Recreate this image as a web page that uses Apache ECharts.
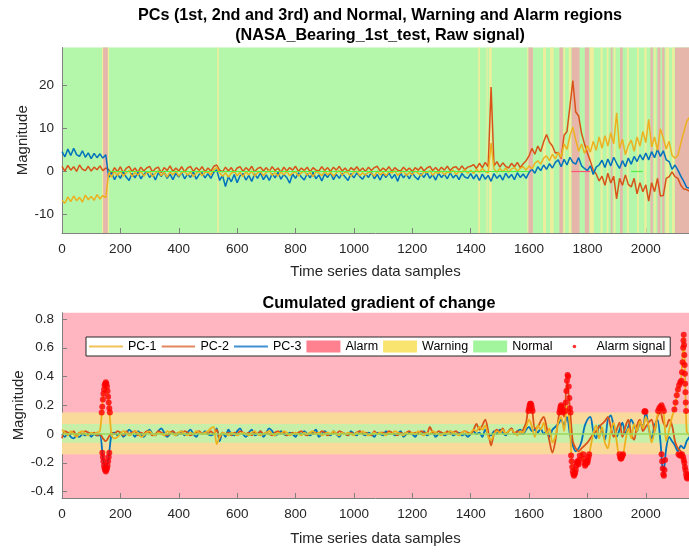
<!DOCTYPE html>
<html>
<head>
<meta charset="utf-8">
<script src="https://cdn.jsdelivr.net/npm/echarts@6/dist/echarts.min.js"></script>
<style>html,body{margin:0;padding:0;background:#fff}#c{width:689px;height:552px}</style>
</head>
<body>
<div id="c"></div>
<script>
// ---- data (sample step 10) ----
var STEP = 10;
var xTicks = [0,200,400,600,800,1000,1200,1400,1600,1800,2000];
var yTopTicks = [-10,0,10,20];
var yBotTicks = [-0.4,-0.2,0,0.2,0.4,0.6,0.8];

var topPC1 = [-6.8,-7.5,-6.0,-7.1,-5.8,-6.9,-6.1,-7.2,-5.6,-6.7,-5.9,-6.8,-5.5,-6.5,-5.7,-6.2,
-0.4,-1.4,-0.1,-1.1,0.0,-1.2,-0.4,0.1,-1.3,-0.3,-1.0,0.0,-1.2,-0.4,
-0.1,-1.3,-0.5,0.1,-1.1,-0.3,-1.4,-0.2,-0.9,0.0,
-1.2,-0.4,0.0,-1.0,-0.2,-1.3,-0.5,0.0,-1.1,-0.3,
-0.2,-0.9,0.4,0.8,-0.4,-1.2,-0.4,-1.4,-0.5,0.0,
-1.1,-0.3,-1.3,-0.2,-0.9,0.0,-1.2,-0.4,-0.1,-1.1,
-0.3,0.1,-1.0,-0.4,-1.2,-0.2,-0.9,0.0,-1.1,-0.5,
-0.2,-1.2,-0.4,0.0,-1.0,-0.3,-1.3,-0.2,-0.5,-1.1,
0.0,-0.9,-0.3,-1.2,-0.4,0.1,-1.0,-0.2,-0.5,-1.2,
-0.3,0.0,-1.1,-0.4,-1.0,-0.2,-0.5,-1.2,0.0,-0.9,
-0.3,-1.1,-0.2,-0.5,0.1,-1.0,-0.4,0.0,-1.1,-0.3,
-0.9,0.0,-0.5,-1.1,-0.2,-0.4,0.1,-1.0,-0.3,-0.5,
0.0,-0.9,-0.2,-0.4,0.2,-0.8,-0.1,-0.3,0.3,-0.5,
0.2,-0.6,0.4,-0.3,0.6,-0.1,-0.4,6.5,0.5,-0.3,
0.6,-0.2,0.7,-0.3,0.5,0.8,0.0,0.6,1.0,0.2,
1.2,0.5,1.8,2.4,1.6,3.0,3.5,2.4,3.9,2.8,
4.3,3.2,6.3,5.0,8.2,10.2,7.2,4.6,6.3,4.1,
5.9,4.4,6.9,4.8,7.9,5.3,8.2,5.8,8.9,6.3,
13.5,5.2,7.4,3.8,5.9,7.2,4.6,7.9,5.8,9.2,
6.6,12.0,5.6,7.9,4.8,9.8,7.6,5.1,6.9,3.6,
3.0,3.6,6.5,9.0,11.5,12.5];

var topPC2 = [1.1,0.0,1.3,0.2,1.0,-0.1,1.4,0.4,0.1,1.1,0.0,0.9,0.3,1.2,0.1,0.7,
0.3,-0.5,0.8,-0.2,1.0,-0.4,0.6,1.1,-0.1,0.7,-0.3,0.9,0.0,0.7,
1.1,-0.2,0.6,0.9,-0.4,0.8,0.1,1.2,-0.1,0.7,
0.0,1.0,-0.2,0.7,1.1,-0.1,0.8,0.1,1.0,-0.2,
0.7,0.0,1.1,1.4,0.2,-0.2,0.9,0.0,0.8,-0.3,
0.7,1.0,-0.1,0.8,0.1,1.1,-0.2,0.6,0.9,0.0,
0.8,-0.1,1.0,0.1,0.7,-0.3,0.9,0.0,0.8,0.2,
1.1,-0.1,0.7,0.1,0.9,-0.2,0.8,0.2,0.0,1.0,
0.1,0.8,-0.1,0.9,0.2,1.1,0.0,0.7,-0.2,0.8,
0.2,1.0,0.0,0.7,-0.1,0.9,0.1,0.8,1.1,0.0,
0.7,0.1,1.0,-0.1,0.8,0.2,0.0,0.9,0.1,0.7,
-0.1,0.8,0.2,1.0,0.0,0.7,1.1,0.1,0.8,0.0,
0.9,0.2,1.1,0.1,0.8,1.0,0.2,1.2,0.3,0.9,
1.1,1.5,0.6,1.8,0.8,2.0,1.0,19.5,1.2,2.2,
0.9,1.9,1.1,0.7,1.8,1.0,2.0,0.8,1.7,2.4,
3.5,5.3,3.9,5.8,4.5,6.8,8.5,6.7,5.8,4.2,
4.3,2.9,8.3,9.2,15.0,21.0,13.7,12.8,8.7,6.3,
4.2,2.3,0.2,-0.7,-2.3,-1.2,-3.3,-0.5,-2.8,-1.2,
-6.5,-1.7,-3.3,-0.9,-3.1,-3.7,-1.7,-5.3,-2.7,-4.8,
-3.2,-7.0,-2.7,-4.8,-1.7,-5.8,-5.7,-1.7,-1.3,-0.2,
-1.3,-1.7,-3.3,-4.2,-4.3,-4.7];

var topPC3 = [4.5,3.3,5.1,3.6,5.3,3.8,3.4,4.7,3.2,4.2,2.9,4.1,3.1,4.0,3.0,3.8,
-1.5,-0.4,-2.0,-0.7,-1.7,-0.2,-1.4,-2.2,-0.5,-1.6,-0.3,-1.8,-0.8,-0.1,
-1.5,-0.6,-2.1,-0.4,-1.3,-0.2,-1.7,-0.7,-2.0,-0.5,
-1.4,-0.3,-1.8,-0.7,-1.5,-0.2,-1.9,-0.8,-0.4,-1.6,
-0.6,-1.7,-0.3,0.3,-2.2,-1.0,-3.6,-1.3,-2.5,-0.8,
-2.7,-1.1,-0.6,-2.1,-1.0,-2.4,-0.7,-1.7,-0.4,-2.0,
-0.9,-2.2,-0.6,-1.6,-0.3,-1.9,-0.8,-1.5,-2.8,-0.7,
-1.7,-0.4,-1.4,-2.1,-0.6,-1.6,-0.3,-1.8,-0.9,-2.3,
-0.7,-1.5,-0.4,-2.0,-0.8,-1.7,-0.5,-1.4,-2.2,-0.6,
-1.6,-0.4,-1.3,-1.9,-0.7,-1.5,-0.3,-1.8,-0.8,-2.1,
-0.6,-1.5,-0.4,-1.7,-0.8,-2.4,-0.5,-1.6,-0.7,-1.8,
-0.4,-1.4,-2.0,-0.6,-1.5,-0.3,-1.7,-0.8,-2.1,-0.5,
-1.5,-0.7,-1.8,-0.4,-1.6,-0.8,-2.0,-0.6,-1.4,-1.7,
-0.6,-1.8,-0.8,-2.2,-0.7,-1.9,-1.0,-2.4,-0.6,-1.7,
-0.9,-2.1,-0.5,-1.6,-0.8,-2.0,-0.4,-1.5,-0.7,-1.7,
-0.3,0.4,-0.5,1.0,0.1,1.4,0.4,1.7,0.7,2.0,
2.6,1.0,2.7,1.4,3.2,2.0,1.6,3.1,1.2,0.6,
0.1,1.2,-0.8,0.9,1.4,2.5,0.8,2.8,1.2,3.2,
1.8,0.6,2.4,1.0,3.0,1.6,3.4,2.2,3.8,2.6,
4.2,2.6,4.5,3.1,5.0,3.4,4.7,2.6,2.2,0.4,
1.4,0.2,-1.2,-2.4,-3.8,-4.0];

var botPC1 = [0.03,0.01,-0.01,0.02,0.0,-0.02,0.01,0.02,0.0,-0.01,
0.01,0.0,0.01,0.02,0.24,0.36,0.22,-0.01,-0.03,-0.02,
0.0,0.02,0.01,-0.01,0.0,0.02,0.01,-0.02,-0.01,0.01,
0.02,0.0,-0.01,0.01,0.0,-0.01,0.02,0.01,0.0,-0.01,
0.01,0.02,0.0,-0.01,0.01,0.0,0.02,0.01,0.0,0.01,
0.02,0.04,0.05,-0.07,-0.02,0.01,0.0,-0.01,0.01,0.0,
-0.01,0.0,0.01,0.0,-0.01,0.01,0.02,0.0,-0.01,0.0,
0.01,0.02,0.0,-0.01,0.01,0.0,0.02,0.01,-0.01,0.0,
0.01,0.0,-0.01,0.01,0.0,0.01,0.02,0.0,0.01,-0.01,
0.0,0.01,0.0,0.02,0.0,-0.01,0.01,0.0,0.01,0.0,
-0.01,0.01,0.0,0.02,0.0,-0.01,0.0,0.01,0.0,0.01,
0.0,-0.01,0.01,0.0,0.02,0.01,0.0,-0.01,0.01,0.0,
0.01,0.0,0.02,0.0,-0.01,0.01,0.0,0.02,0.01,0.0,
-0.01,0.01,0.0,0.02,0.01,0.0,-0.01,0.01,0.02,0.0,
0.01,0.03,0.02,0.05,0.03,0.06,-0.02,-0.04,0.0,0.02,
0.01,0.03,0.0,0.02,0.03,0.01,-0.01,0.02,0.01,0.05,
0.1,0.05,-0.02,0.06,0.03,0.08,0.0,0.04,-0.06,-0.02,
0.08,0.12,0.02,0.2,0.05,-0.26,-0.25,-0.21,-0.12,-0.2,
-0.2,-0.1,0.0,0.06,-0.03,0.05,-0.06,-0.1,0.02,0.08,
-0.05,-0.15,-0.15,-0.05,0.04,-0.03,0.07,0.02,0.09,0.04,
0.12,0.05,-0.06,0.02,0.13,0.19,0.17,-0.05,0.03,0.12,
0.19,0.31,0.36,0.69,0.02,-0.01];

var botPC2 = [-0.03,0.02,0.01,0.0,0.02,-0.01,0.01,0.0,0.02,0.01,
0.0,0.01,-0.01,0.0,-0.03,-0.05,-0.02,0.01,0.0,0.02,
0.01,-0.01,0.02,0.0,0.01,0.02,-0.01,0.01,0.0,0.02,
0.01,-0.01,0.0,0.02,0.01,0.0,-0.01,0.01,0.02,0.0,
0.01,0.0,0.02,0.01,-0.01,0.0,0.01,0.02,0.0,0.01,
0.0,0.02,0.0,0.03,-0.03,0.01,0.0,0.01,-0.01,0.01,
0.0,0.02,0.01,0.0,0.01,-0.01,0.01,0.0,0.02,0.0,
0.01,0.0,-0.01,0.01,0.02,0.0,0.01,-0.01,0.0,0.01,
0.0,0.01,0.02,0.0,-0.01,0.01,0.0,0.01,0.0,0.02,
0.01,-0.01,0.0,0.01,0.0,0.02,0.01,0.0,-0.01,0.01,
0.0,0.01,0.02,0.0,0.01,0.0,-0.01,0.02,0.0,0.01,
0.01,0.0,0.02,0.01,0.0,-0.01,0.01,0.0,0.01,0.02,
0.0,0.01,0.0,0.02,0.01,0.0,0.05,0.01,0.0,0.02,
0.01,0.0,0.02,0.0,0.01,0.02,0.0,0.01,0.02,0.01,
0.0,0.03,0.07,0.03,0.06,0.1,0.02,-0.08,0.0,0.03,
0.01,0.04,0.0,0.02,0.04,0.0,0.02,0.0,0.03,0.08,
0.19,0.17,0.04,0.05,0.09,0.12,0.05,-0.05,-0.13,-0.05,
0.1,0.2,0.12,0.37,0.18,-0.05,-0.1,-0.12,-0.1,-0.08,
-0.06,-0.03,0.0,0.02,0.05,0.07,0.09,0.12,0.05,-0.02,
0.03,0.08,-0.02,0.05,0.1,0.0,-0.04,0.06,0.1,0.02,
0.05,0.08,0.1,0.02,0.12,0.15,0.08,0.05,0.1,0.06,
-0.05,-0.1,-0.12,-0.16,-0.3,-0.28];

var botPC3 = [0.0,-0.02,0.01,-0.02,-0.03,-0.01,-0.02,0.0,-0.01,0.01,
-0.02,0.0,-0.01,-0.01,-0.16,-0.26,-0.16,0.0,0.01,-0.01,
0.01,-0.02,0.0,0.03,0.01,-0.02,0.02,0.0,-0.02,0.01,
0.03,0.0,-0.01,0.02,0.04,0.01,-0.02,0.0,0.02,-0.01,
0.0,0.02,-0.01,0.01,0.03,0.0,-0.02,0.01,0.0,0.02,
0.0,-0.01,0.0,0.04,-0.05,0.01,-0.02,0.03,0.0,-0.01,
0.02,0.04,0.0,-0.02,0.01,0.03,-0.01,0.0,0.02,-0.02,
0.01,0.04,0.02,-0.01,0.0,0.02,0.0,-0.01,0.01,0.0,
-0.02,0.01,0.0,0.02,0.0,-0.01,0.01,0.03,-0.02,0.0,
0.02,0.0,-0.01,0.02,0.0,-0.02,0.01,0.0,-0.01,0.02,
0.0,-0.01,0.02,0.0,-0.01,0.01,0.0,-0.02,0.01,0.0,
-0.01,0.02,0.0,0.01,-0.01,0.0,0.02,-0.02,0.0,0.01,
0.0,-0.02,0.01,0.0,0.02,-0.01,0.0,0.01,-0.02,0.0,
0.01,-0.01,0.0,0.02,-0.01,0.0,0.01,-0.01,0.0,-0.02,
0.0,0.02,0.0,0.01,-0.02,0.03,0.0,-0.01,0.02,0.0,
0.03,0.01,-0.01,0.02,0.04,0.0,0.02,0.03,0.0,0.03,
0.05,0.02,0.03,0.01,0.04,0.0,0.02,-0.02,0.03,0.05,
0.07,0.1,0.06,0.12,0.0,-0.08,-0.12,-0.1,-0.05,0.05,
0.1,0.12,0.02,-0.03,0.06,0.02,-0.04,0.1,0.13,0.05,
-0.02,0.03,0.08,0.0,0.05,0.1,0.06,0.02,0.08,0.05,
0.16,0.04,-0.03,0.06,0.1,-0.05,-0.28,-0.1,-0.02,-0.05,
-0.08,-0.12,-0.08,-0.1,-0.05,-0.02];

// alarm signal points (sample, value)
var alarmX = [136,138,140,142,144,146,148,150,152,154,156,158,160,162,164,
138,140,142,144,146,148,150,152,154,156,158,160,162,
1598,1600,1602,1604,1606,1608,1610,1612,
1704,1706,1708,1710,1712,1714,1716,
1724,1726,1728,1730,1732,1734,1736,1738,1740,1742,
1744,1746,1748,1750,1752,1754,1756,1758,1760,1762,1764,1766,1768,1770,1772,1774,
1786,1788,1790,1792,1794,1796,1798,1800,1802,1804,1806,
1910,1912,1914,1916,1918,1920,1922,
1995,1997,1999,
2042,2046,2050,2054,2058,2062,
2054,2056,2058,2060,2062,2064,2066,
2098,2102,2106,2110,2114,2118,2122,
2124,2126,2128,2129,2130,2131,2132,2133,2134,2135,2136,2137,2138,
2112,2116,2120,2124,2128,2130,2132,2134,2136,2138,2140,2142,2144,2146,2148];
var alarmY = [0.15,0.19,0.24,0.28,0.31,0.34,0.35,0.36,0.35,0.33,0.3,0.26,0.22,0.18,0.15,
-0.13,-0.16,-0.19,-0.22,-0.24,-0.25,-0.26,-0.25,-0.24,-0.22,-0.19,-0.16,-0.13,
0.16,0.18,0.2,0.21,0.21,0.2,0.18,0.16,
0.15,0.17,0.19,0.2,0.19,0.17,0.15,
0.16,0.22,0.3,0.37,0.41,0.4,0.33,0.25,0.18,0.15,
-0.15,-0.19,-0.23,-0.26,-0.28,-0.29,-0.28,-0.27,-0.25,-0.22,-0.2,-0.19,-0.2,-0.21,-0.18,-0.15,
-0.14,-0.17,-0.2,-0.22,-0.21,-0.2,-0.19,-0.2,-0.18,-0.16,-0.14,
-0.14,-0.16,-0.17,-0.17,-0.16,-0.15,-0.14,
0.155,0.16,0.155,
0.16,0.18,0.19,0.2,0.18,0.16,
-0.14,-0.19,-0.24,-0.28,-0.29,-0.25,-0.18,
0.17,0.22,0.27,0.31,0.34,0.36,0.37,
0.43,0.5,0.6,0.65,0.69,0.62,0.55,0.48,0.42,0.35,0.29,0.22,0.16,
-0.14,-0.15,-0.15,-0.14,-0.16,-0.18,-0.2,-0.23,-0.25,-0.28,-0.3,-0.31,-0.3,-0.29,-0.28];

// region intervals (samples) of the top panel
var alarmBands = [[141,157],[1598,1613],[1704,1716],[1746,1773],[1791,1806],[1880,1886],[1912,1921],[2016,2024],[2040,2050],[2056,2064],[2100,2150]];
var warningBands = [[137,141],[157,161],[532,537],[1426,1432],[1454,1458],[1463,1472],[1594,1598],[1648,1658],[1672,1684],[1718,1724],[1736,1745],[1808,1822],[1845,1852],[1866,1872],[1890,1896],[1935,1942],[1970,1976],[1995,2003],[2028,2034],[2068,2080],[2090,2098]];
var zeroNormalSegs = [[160,1600],[1950,1990]];
var zeroAlarmSegs = [[1745,1810],[2100,2150]];
// thresholds of the bottom panel
var warningLimits = [-0.14, 0.15];
var normalLimits = [-0.06, 0.07];

// ---- chart ----
var XMAX = 2148;
var C1 = '#EDB120', C2 = '#D95319', C3 = '#0072BD';
function xy(arr){ return arr.map(function(v,i){ return [i*STEP, v]; }); }
function bandsX(list){ return list.map(function(b){ return [{xAxis:b[0]},{xAxis:b[1]}]; }); }
function segs(list){ return list.map(function(s){ return [{coord:[s[0],0]},{coord:[s[1],0]}]; }); }
var FONT = 'Liberation Sans, Arial, Helvetica, sans-serif';
var TXT = '#262626';
function fmt(v){ return String(v); }

function xAxisCfg(gi, gap){
  return {type:'value', gridIndex:gi, min:0, max:XMAX,
    name:'Time series data samples', nameLocation:'middle', nameGap:gap, nameMoveOverlap:false,
    nameTextStyle:{fontSize:15, color:TXT, fontFamily:FONT},
    axisLine:{show:true, onZero:false, lineStyle:{color:'#808080', width:1}},
    axisTick:{show:true, inside:true, length:5, customValues:xTicks, lineStyle:{color:'#808080'}},
    axisLabel:{customValues:xTicks, formatter:fmt, fontSize:13.5, color:TXT, fontFamily:FONT, margin:9},
    splitLine:{show:false}};
}
function yAxisCfg(gi, mn, mx, ticks, gap){
  return {type:'value', gridIndex:gi, min:mn, max:mx,
    name:'Magnitude', nameLocation:'middle', nameGap:gap, nameMoveOverlap:false,
    nameTextStyle:{fontSize:15, color:TXT, fontFamily:FONT},
    axisLine:{show:true, onZero:false, lineStyle:{color:'#808080', width:1}},
    axisTick:{show:true, inside:true, length:5, customValues:ticks, lineStyle:{color:'#808080'}},
    axisLabel:{customValues:ticks, formatter:fmt, fontSize:13.5, color:TXT, fontFamily:FONT, margin:8},
    splitLine:{show:false}};
}
function pcLine(name, data, color, xi, w, z, smooth){
  return {name:name, type:'line', xAxisIndex:xi, yAxisIndex:xi, data:data, showSymbol:false, symbol:'none',
    smooth:smooth || false,
    lineStyle:{color:color, width:w}, itemStyle:{color:color}, z:z, silent:true, animation:false};
}
function svgIcon(inner){
  return 'image://data:image/svg+xml;utf8,' + encodeURIComponent('<svg xmlns="http://www.w3.org/2000/svg" width="34" height="12">' + inner + '</svg>');
}
function lineIcon(col){ return svgIcon('<line x1="0" y1="6" x2="34" y2="6" stroke="' + col + '" stroke-width="2"/>'); }

var option = {
  animation:false,
  backgroundColor:'#ffffff',
  title:[
    {text:'PCs (1st, 2nd and 3rd) and Normal, Warning and Alarm regions', left:375, top:3, textAlign:'center',
     textStyle:{fontSize:16.2, fontWeight:'bold', color:'#000', fontFamily:FONT}},
    {text:'(NASA_Bearing_1st_test, Raw signal)', left:375, top:23, textAlign:'center',
     textStyle:{fontSize:16.2, fontWeight:'bold', color:'#000', fontFamily:FONT}},
    {text:'Cumulated gradient of change', left:374, top:291, textAlign:'center',
     textStyle:{fontSize:16.2, fontWeight:'bold', color:'#000', fontFamily:FONT}}
  ],
  legend:{
    left:86, top:337, orient:'horizontal',
    itemWidth:34, itemHeight:12, itemGap:5,
    padding:[3,5,3,3],
    backgroundColor:'#fff', borderColor:'#262626', borderWidth:1,
    textStyle:{fontSize:12.5, color:'#000', fontFamily:FONT},
    selectedMode:false,
    data:[
      {name:'PC-1', icon:lineIcon('#F2C15A')},
      {name:'PC-2', icon:lineIcon('#E3885E')},
      {name:'PC-3', icon:lineIcon('#3F90D2')},
      {name:'Alarm', icon:'rect', itemStyle:{color:'#FF808E'}},
      {name:'Warning', icon:'rect', itemStyle:{color:'#F8E46E'}},
      {name:'Normal', icon:'rect', itemStyle:{color:'#A3F59D'}},
      {name:'Alarm signal', icon:svgIcon('<circle cx="17" cy="6" r="1.8" fill="red"/>')}
    ]
  },
  grid:[
    {left:62, right:0, top:47.5, height:185.5, show:true, backgroundColor:'#B4F6AA', borderWidth:0, outerBoundsMode:'none'},
    {left:62, right:0, top:312.7, height:185.3, show:true, backgroundColor:'#FFB6C1', borderWidth:0, outerBoundsMode:'none'}
  ],
  xAxis:[xAxisCfg(0, 31), xAxisCfg(1, 33)],
  yAxis:[yAxisCfg(0, -14.4, 28.7, yTopTicks, 32), yAxisCfg(1, -0.445, 0.844, yBotTicks, 36)],
  series:[
    // top panel regions
    {name:'topWarning', type:'line', xAxisIndex:0, yAxisIndex:0, data:[], z:1, silent:true,
     markArea:{silent:true, itemStyle:{color:'#EFEE9C', opacity:1}, data:bandsX(warningBands)}},
    {name:'topAlarm', type:'line', xAxisIndex:0, yAxisIndex:0, data:[], z:1, silent:true,
     markArea:{silent:true, itemStyle:{color:'#E7B6AA', opacity:1}, data:bandsX(alarmBands)},
     markLine:{silent:true, symbol:'none', label:{show:false}, lineStyle:{color:'#FF5577', width:1.2, type:'solid'}, data:segs(zeroAlarmSegs)}},
    {name:'topZero', type:'line', xAxisIndex:0, yAxisIndex:0, data:[], z:1, silent:true,
     markLine:{silent:true, symbol:'none', label:{show:false}, lineStyle:{color:'#55EE44', width:1.2, type:'solid'}, data:segs(zeroNormalSegs)}},
    pcLine('topPC2', xy(topPC2), C2, 0, 1.5, 3),
    pcLine('topPC3', xy(topPC3), C3, 0, 1.5, 3),
    pcLine('topPC1', xy(topPC1), C1, 0, 1.5, 3),
    // bottom panel regions
    {name:'Alarm', type:'line', xAxisIndex:1, yAxisIndex:1, data:[], z:1, silent:true,
     itemStyle:{color:'#FF808E'}, lineStyle:{color:'#FF808E'}},
    {name:'Warning', type:'line', xAxisIndex:1, yAxisIndex:1, data:[], z:1, silent:true,
     itemStyle:{color:'#F8E46E'}, lineStyle:{color:'#F8E46E'},
     markArea:{silent:true, itemStyle:{color:'#FADA9B', opacity:1}, data:[[{yAxis:warningLimits[0]},{yAxis:warningLimits[1]}]]}},
    {name:'Normal', type:'line', xAxisIndex:1, yAxisIndex:1, data:[], z:1.5, silent:true,
     itemStyle:{color:'#A3F59D'}, lineStyle:{color:'#A3F59D'},
     markArea:{silent:true, itemStyle:{color:'#C8EFA7', opacity:1}, data:[[{yAxis:normalLimits[0]},{yAxis:normalLimits[1]}]]},
     markLine:{silent:true, symbol:'none', label:{show:false}, lineStyle:{color:'#9AD75C', width:1.5, type:'solid'}, data:[{yAxis:0}]}},
    pcLine('PC-3', xy(botPC3), C3, 1, 1.8, 3, 0.3),
    pcLine('PC-2', xy(botPC2), C2, 1, 1.8, 3, 0.3),
    pcLine('PC-1', xy(botPC1), C1, 1, 1.8, 3, 0.3),
    {name:'Alarm signal', type:'scatter', xAxisIndex:1, yAxisIndex:1, symbol:'circle', symbolSize:6,
     itemStyle:{color:'#FF0000'}, z:4, silent:true,
     data:alarmX.map(function(x,i){ return [x, alarmY[i]]; })}
  ]
};
var chart = echarts.init(document.getElementById('c'), null, {renderer:'canvas'});
chart.setOption(option);
</script>
</body>
</html>
